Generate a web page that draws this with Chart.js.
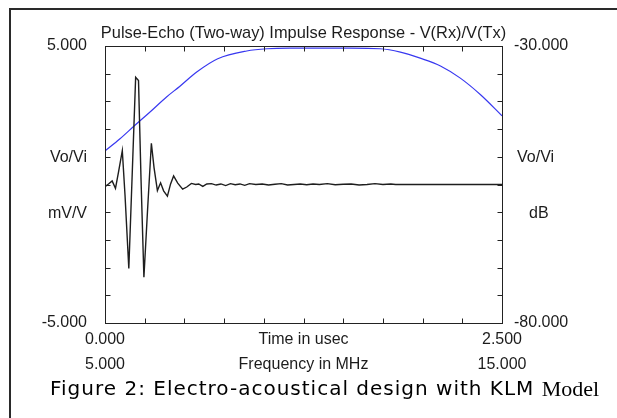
<!DOCTYPE html>
<html>
<head>
<meta charset="utf-8">
<script src="https://cdn.jsdelivr.net/npm/chart.js@4/dist/chart.umd.min.js"></script>
<style>
html,body{margin:0;padding:0;background:#fff;}
canvas{display:block;}
</style>
</head>
<body>
<canvas id="c" width="617" height="418"></canvas>
<script>
// ---- Data ----
const timeUs = [0, 0.022, 0.045, 0.066, 0.085, 0.109, 0.126, 0.150, 0.170, 0.193, 0.211, 0.227, 0.245, 0.268, 0.292, 0.309, 0.330, 0.350, 0.369, 0.393, 0.413, 0.432, 0.458, 0.489, 0.515, 0.544, 0.571, 0.590, 0.616, 0.641,
  0.67, 0.70, 0.73, 0.76, 0.79, 0.82, 0.85, 0.88, 0.91, 0.95, 0.99, 1.03, 1.07, 1.11, 1.15, 1.19, 1.23, 1.27, 1.31, 1.35, 1.40, 1.45, 1.50, 1.55, 1.60, 1.65, 1.70, 1.75, 1.80, 1.83, 2.5];
const responseMvV = [-0.08, 0.02, 0.13, -0.14, 0.45, 1.22, -0.38, -3.03, 0.16, 3.87, 3.75, 0.16, -3.35, -0.92, 1.49, 0.60, -0.22, 0.06, -0.23, -0.42, 0.02, 0.31, 0.05, -0.17, -0.09, 0.04, 0.0, 0.02, -0.07, 0.02,
  0.03, -0.02, 0.02, -0.04, 0.03, -0.01, 0.02, -0.03, 0.03, 0.0, 0.02, -0.02, 0.01, 0.03, -0.02, 0.0, 0.02, -0.01, 0.02, 0.0, 0.03, -0.01, 0.01, 0.02, -0.02, 0.0, 0.03, 0.0, 0.02, 0.0, 0.0];

const freqMHz = [5.0, 5.37, 5.74, 6.12, 6.55, 6.88, 7.31, 7.84, 8.57, 9.08, 9.66, 10.42, 11.17, 11.93, 12.44, 12.94, 13.45, 13.95, 14.46, 15.0];
const gainDb = [-48.95, -46.8, -44.4, -42.0, -39.2, -37.3, -34.7, -32.3, -30.9, -30.5, -30.4, -30.4, -30.4, -30.5, -31.1, -32.2, -33.6, -35.8, -38.8, -42.6];

const leftTickLabels = ['5.000', '-5.000'];
const rightTickLabels = ['-30.000', '-80.000'];
const timeTickLabels = ['0.000', '2.500'];
const freqTickLabels = ['5.000', '15.000'];
const titleText = 'Pulse-Echo (Two-way) Impulse Response - V(Rx)/V(Tx)';
const leftUnits = ['Vo/Vi', 'mV/V'];
const rightUnits = ['Vo/Vi', 'dB'];
const timeTitle = 'Time in usec';
const freqTitle = 'Frequency in MHz';
const captionMain = 'Figure 2: Electro-acoustical design with KLM';
const captionEnd = 'Model';

const waveData = timeUs.map((t, i) => ({x: t, y: responseMvV[i]}));
const freqData = freqMHz.map((f, i) => ({x: f, y: gainDb[i]}));

const decor = {
  id: 'decor',
  beforeDraw(chart) {
    const ctx = chart.ctx;
    ctx.save();
    ctx.fillStyle = '#fff';
    ctx.fillRect(0, 0, chart.width, chart.height);
    ctx.restore();
  },
  afterDraw(chart) {
    const ctx = chart.ctx;
    const a = chart.chartArea;
    const sx = chart.scales.x, sy = chart.scales.y;
    ctx.save();
    // outer page border (top & left)
    ctx.strokeStyle = '#2a2a2a';
    ctx.lineWidth = 2;
    ctx.beginPath();
    ctx.moveTo(10, chart.height);
    ctx.lineTo(10, 9);
    ctx.lineTo(chart.width, 9);
    ctx.stroke();

    // plot frame
    ctx.strokeStyle = '#222';
    ctx.lineWidth = 1;
    const L = Math.round(a.left) + 0.5, R = Math.round(a.right) + 0.5;
    const T = Math.round(a.top) + 0.5, B = Math.round(a.bottom) + 0.5;
    ctx.strokeRect(L, T, R - L, B - T);
    // inward ticks
    ctx.beginPath();
    for (let i = 1; i < 10; i++) {
      const px = Math.round(sx.getPixelForValue(i * 0.25)) + 0.5;
      ctx.moveTo(px, T); ctx.lineTo(px, T + 5);
      ctx.moveTo(px, B); ctx.lineTo(px, B - 5);
      const py = Math.round(sy.getPixelForValue(5 - i)) + 0.5;
      ctx.moveTo(L, py); ctx.lineTo(L + 5, py);
      ctx.moveTo(R, py); ctx.lineTo(R - 5, py);
    }
    ctx.stroke();

    // texts
    ctx.fillStyle = '#1c1c1c';
    ctx.font = '16.4px "Liberation Sans", Arial, sans-serif';
    ctx.textBaseline = 'middle';
    ctx.textAlign = 'center';
    ctx.fillText(titleText, (a.left + a.right) / 2, 33);

    ctx.font = '16px "Liberation Sans", Arial, sans-serif';
    ctx.textAlign = 'right';
    const lx = 87;
    ctx.fillText(leftTickLabels[0], lx, sy.getPixelForValue(5));
    ctx.fillText(leftTickLabels[1], lx, sy.getPixelForValue(-5));
    ctx.fillText(leftUnits[0], lx, 158);
    ctx.fillText(leftUnits[1], lx, 214);

    ctx.textAlign = 'left';
    const yr = chart.scales.yr;
    ctx.fillText(rightTickLabels[0], 514, yr.getPixelForValue(-30));
    ctx.fillText(rightTickLabels[1], 514, yr.getPixelForValue(-80));
    ctx.fillText(rightUnits[0], 517, 158);
    ctx.fillText(rightUnits[1], 529, 214);

    ctx.textAlign = 'center';
    const xf = chart.scales.xf;
    ctx.fillText(timeTickLabels[0], sx.getPixelForValue(0), 340);
    ctx.fillText(timeTickLabels[1], sx.getPixelForValue(2.5), 340);
    ctx.fillText(timeTitle, (a.left + a.right) / 2, 340);
    ctx.fillText(freqTickLabels[0], xf.getPixelForValue(5), 365);
    ctx.fillText(freqTickLabels[1], xf.getPixelForValue(15), 365);
    ctx.fillText(freqTitle, (a.left + a.right) / 2, 365);

    // caption
    ctx.textAlign = 'left';
    ctx.fillStyle = '#000';
    ctx.font = '20px "DejaVu Sans", sans-serif';
    ctx.letterSpacing = '1px';
    ctx.fillText(captionMain, 50, 390);
    const w1 = ctx.measureText(captionMain + ' ').width;
    ctx.letterSpacing = '0px';
    ctx.font = '22px "Liberation Serif", "DejaVu Serif", serif';
    ctx.fillText(captionEnd, 50 + w1, 390);
    ctx.restore();
  }
};

new Chart(document.getElementById('c'), {
  type: 'line',
  data: {
    datasets: [
      {
        label: 'Impulse response (mV/V)',
        data: waveData,
        xAxisID: 'x', yAxisID: 'y',
        borderColor: '#1e1e1e', borderWidth: 1.4,
        pointRadius: 0, tension: 0, fill: false
      },
      {
        label: 'Frequency response (dB)',
        data: freqData,
        xAxisID: 'xf', yAxisID: 'yr',
        borderColor: '#3838f0', borderWidth: 1.2,
        pointRadius: 0, cubicInterpolationMode: 'monotone', fill: false
      }
    ]
  },
  options: {
    responsive: false,
    animation: false,
    devicePixelRatio: 1,
    layout: { padding: { left: 105, right: 115, top: 46, bottom: 95 } },
    plugins: { legend: { display: false }, tooltip: { enabled: false }, title: { display: false } },
    scales: {
      x: { type: 'linear', min: 0, max: 2.5, display: false },
      xf: { type: 'linear', min: 5, max: 15, display: false },
      y: { type: 'linear', min: -5, max: 5, display: false },
      yr: { type: 'linear', min: -80, max: -30, display: false }
    }
  },
  plugins: [decor]
});
</script>
</body>
</html>
